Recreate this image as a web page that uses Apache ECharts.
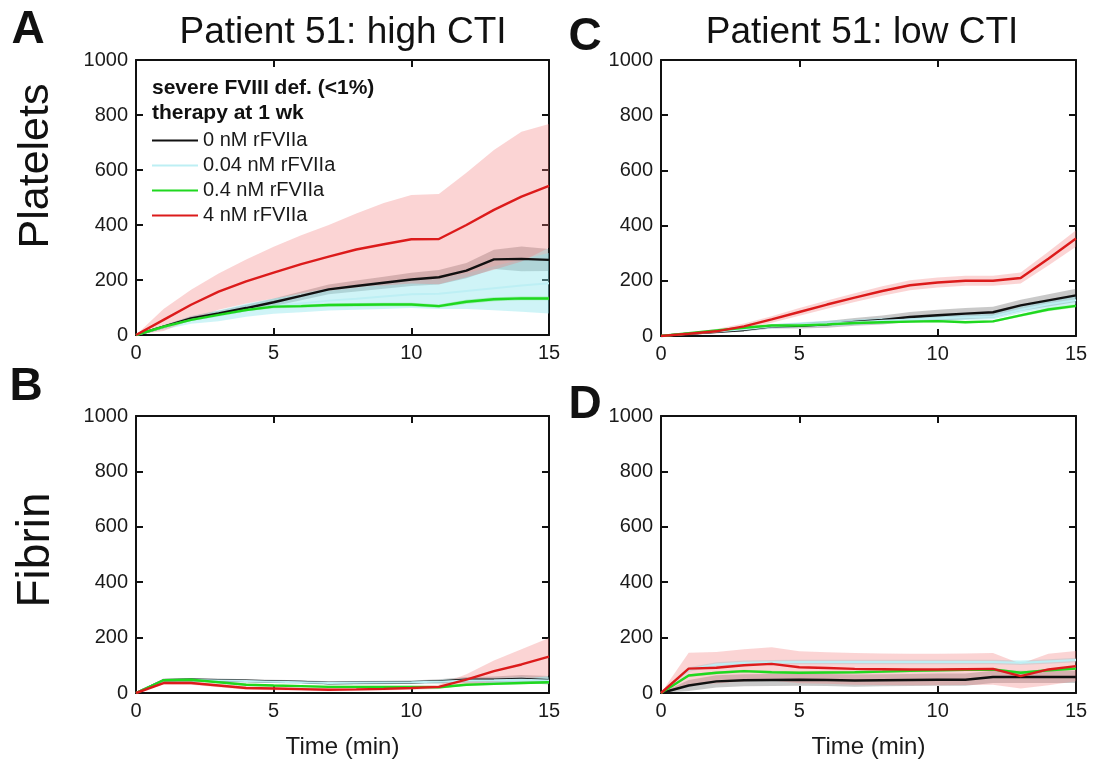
<!DOCTYPE html>
<html>
<head>
<meta charset="utf-8">
<script src="https://cdn.jsdelivr.net/npm/echarts@6/dist/echarts.min.js"></script>
<style>
html,body{margin:0;padding:0;background:#fff}
#chart{width:1093px;height:768px}
</style>
</head>
<body>
<div id="chart"></div>
<script>
var times = [0,1,2,3,4,5,6,7,8,9,10,11,12,13,14,15];
var doseNames = ['0 nM rFVIIa','0.04 nM rFVIIa','0.4 nM rFVIIa','4 nM rFVIIa'];

// A: platelets, high CTI
var aBlack   = [0,30,60,78,98,119,142,166,178,190,202,210,234,275,277,273];
var aBlackSd = [0,5,8,10,12,14,16,18,20,22,24,26,28,35,45,40];
var aCyan    = [0,28,55,70,90,105,115,125,132,140,148,150,160,170,180,188];
var aCyanSd  = [0,8,14,20,24,28,32,36,40,45,50,55,65,80,95,110];
var aGreen   = [0,30,55,73,91,103,105,109,110,111,111,105,121,130,133,133];
var aGreenSd = [0,3,4,5,5,6,6,6,6,6,6,6,7,7,7,7];
var aRed     = [0,55,110,158,195,227,258,285,311,330,348,349,400,455,503,542];
var aRedSd   = [0,40,55,66,80,94,105,115,131,150,161,164,190,218,236,225];

// B: fibrin, high CTI
var bBlack   = [0,46,48,46,44,42,40,36,37,38,39,42,48,48,51,46];
var bBlackSd = [0,6,6,6,6,6,6,6,6,6,6,8,10,12,14,15];
var bCyan    = [0,45,47,45,43,41,39,36,37,38,39,41,45,46,48,45];
var bCyanSd  = [0,5,5,5,5,5,5,5,5,5,5,6,8,10,12,12];
var bGreen   = [0,46,48,39,30,27,25,22,22,22,22,21,30,33,36,39];
var bGreenSd = [0,4,4,4,4,4,4,4,4,4,4,4,4,4,4,4];
var bRed     = [0,36,36,27,18,16,14,12,13,15,18,22,48,79,103,131];
var bRedSd   = [0,5,6,6,6,6,6,6,6,6,6,8,20,38,55,68];

// C: platelets, low CTI
var cBlack   = [0,8,15,22,35,37,42,51,58,69,75,81,86,111,129,147];
var cBlackSd = [0,3,5,6,8,10,12,14,16,18,20,20,20,20,22,24];
var cCyan    = [0,8,16,24,35,41,45,50,55,60,64,68,71,95,115,130];
var cCyanSd  = [0,3,5,6,8,9,10,10,10,10,10,10,10,12,14,15];
var cGreen   = [0,10,20,30,38,38,42,47,50,52,54,50,53,75,96,109];
var cGreenSd = [0,2,3,4,4,4,4,4,4,4,4,4,4,5,6,6];
var cRed     = [0,8,17,35,60,87,114,139,163,184,194,200,200,210,280,353];
var cRedSd   = [0,5,8,10,12,14,15,16,17,18,18,18,18,20,25,30];

// D: fibrin, low CTI
var dBlack   = [0,27,42,46,47,48,47,45,46,47,48,48,58,58,58,58];
var dBlackSd = [0,20,22,22,22,22,22,22,22,22,22,22,22,22,22,22];
var dCyan    = [0,85,103,109,111,112,112,112,112,112,112,112,112,109,114,119];
var dCyanSd  = [0,8,8,8,8,8,8,8,8,8,8,8,8,8,8,8];
var dGreen   = [0,63,73,79,75,73,74,75,77,80,82,84,85,73,82,88];
var dGreenSd = [0,5,5,5,5,5,5,5,5,5,5,5,5,5,5,5];
var dRed     = [0,88,91,100,105,93,90,87,86,85,85,86,87,61,85,97];
var dRedSd   = [0,57,57,58,60,58,57,57,57,57,57,57,57,45,57,55];

var lineColors = ['#111111','#bdeff4','#1fd81f','#dc1b1b'];
var lineWidths = [2.4, 2, 2.4, 2.4];
var bandColors = ['rgba(60,60,60,0.28)','rgba(140,228,236,0.42)','rgba(60,220,60,0.3)','rgba(242,120,120,0.32)'];
var font = 'Liberation Sans, Arial, sans-serif';

var panels = [
  {grid:{left:136,top:60,width:413,height:275}, means:[aBlack,aCyan,aGreen,aRed], sds:[aBlackSd,aCyanSd,aGreenSd,aRedSd]},
  {grid:{left:136,top:416,width:413,height:277}, means:[bBlack,bCyan,bGreen,bRed], sds:[bBlackSd,bCyanSd,bGreenSd,bRedSd], xName:'Time (min)'},
  {grid:{left:661,top:60,width:415,height:276}, means:[cBlack,cCyan,cGreen,cRed], sds:[cBlackSd,cCyanSd,cGreenSd,cRedSd]},
  {grid:{left:661,top:416,width:415,height:277}, means:[dBlack,dCyan,dGreen,dRed], sds:[dBlackSd,dCyanSd,dGreenSd,dRedSd], xName:'Time (min)'}
];

var grids = [], xAxes = [], yAxes = [], series = [];
var axisLine = {show:true, onZero:false, lineStyle:{color:'#111', width:2}};
var tick = {show:true, inside:true, length:7, lineStyle:{color:'#111', width:2}};
var label = {color:'#1a1a1a', fontSize:20, fontFamily:font, margin:8,
  formatter:function(v){ return String(v); }};

// one polygon per band: lower edge forward, upper edge back
function bandSeries(pi, rows, color){
  return {type:'custom', xAxisIndex:pi*2, yAxisIndex:pi*2, silent:true, z:1,
    encode:{x:0, y:[1,2]},
    data:rows,
    renderItem:function(params, api){
      if (params.dataIndex !== 0) return null;
      var pts = [];
      rows.forEach(function(r){ pts.push(api.coord([r[0], r[1]])); });
      for (var i = rows.length - 1; i >= 0; i--) pts.push(api.coord([rows[i][0], rows[i][2]]));
      return {type:'polygon', shape:{points:pts}, style:{fill:color}};
    }};
}

panels.forEach(function(p, pi){
  grids.push(p.grid);
  xAxes.push({type:'value', gridIndex:pi, position:'bottom', min:0, max:15, interval:5,
    axisLine:axisLine, axisTick:tick, axisLabel:label, splitLine:{show:false},
    name:p.xName || '', nameLocation:'middle', nameGap:42,
    nameTextStyle:{color:'#1a1a1a', fontSize:24, fontFamily:font}});
  xAxes.push({type:'value', gridIndex:pi, position:'top', min:0, max:15, interval:5,
    axisLine:axisLine, axisTick:tick, axisLabel:{show:false}, splitLine:{show:false}});
  yAxes.push({type:'value', gridIndex:pi, position:'left', min:0, max:1000, interval:200,
    axisLine:axisLine, axisTick:tick, axisLabel:label, splitLine:{show:false}});
  yAxes.push({type:'value', gridIndex:pi, position:'right', min:0, max:1000, interval:200,
    axisLine:axisLine, axisTick:tick, axisLabel:{show:false}, splitLine:{show:false}});

  p.means.forEach(function(m, si){
    var sd = p.sds[si];
    var rows = times.map(function(t,i){ return [t, Math.max(0, m[i] - sd[i]), m[i] + sd[i]]; });
    series.push(bandSeries(pi, rows, bandColors[si]));
  });
  p.means.forEach(function(m, si){
    series.push({type:'line', name:doseNames[si], xAxisIndex:pi*2, yAxisIndex:pi*2,
      symbol:'none', z:3,
      itemStyle:{color:lineColors[si]},
      lineStyle:{color:lineColors[si], width:lineWidths[si]},
      data: times.map(function(t,i){ return [t, m[i]]; })});
  });
});

function txt(x, y, s, size, weight, rot){
  return {type:'text', x:x, y:y, rotation:rot || 0,
    style:{text:s, fill:'#111', font:(weight||'normal') + ' ' + size + 'px ' + font,
      textAlign:'center', textVerticalAlign:'middle'}};
}

var chart = echarts.init(document.getElementById('chart'));
chart.setOption({
  animation:false,
  backgroundColor:'#fff',
  grid:grids,
  xAxis:xAxes,
  yAxis:yAxes,
  legend:{data:doseNames, orient:'vertical', left:152, top:128, padding:0, itemGap:0,
    icon:'rect', itemWidth:46, itemHeight:2,
    textStyle:{color:'#1a1a1a', fontSize:20, fontFamily:font, lineHeight:25}},
  graphic:[
    txt(28, 30, 'A', 46, 'bold'),
    txt(26, 387, 'B', 46, 'bold'),
    txt(585, 37, 'C', 46, 'bold'),
    txt(585, 405, 'D', 46, 'bold'),
    txt(343, 33, 'Patient 51: high CTI', 37),
    txt(862, 33, 'Patient 51: low CTI', 37),
    txt(36, 166, 'Platelets', 43, 'normal', Math.PI/2),
    txt(36, 550, 'Fibrin', 46, 'normal', Math.PI/2),
    {type:'text', x:152, y:88, style:{text:'severe FVIII def. (<1%)', fill:'#111',
      font:'bold 21px ' + font, textVerticalAlign:'middle'}},
    {type:'text', x:152, y:113, style:{text:'therapy at 1 wk', fill:'#111',
      font:'bold 21px ' + font, textVerticalAlign:'middle'}}
  ],
  series:series
});
</script>
</body>
</html>
